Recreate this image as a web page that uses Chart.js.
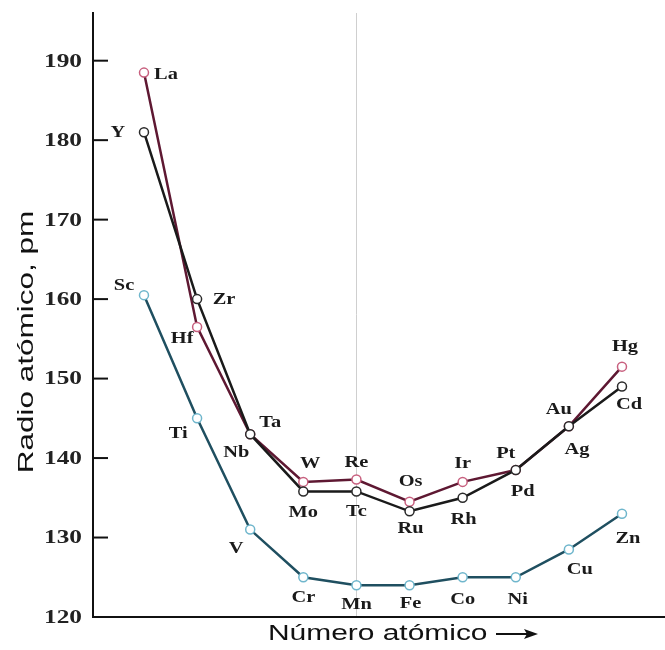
<!DOCTYPE html>
<html>
<head>
<meta charset="utf-8">
<script src="https://cdn.jsdelivr.net/npm/chart.js@4/dist/chart.umd.min.js"></script>
<style>
html,body{margin:0;padding:0;background:#fff;}
canvas{display:block;}
</style>
</head>
<body>
<canvas id="c" width="665" height="650"></canvas>
<script>
// ---- data ----
const groupIndex = [0,1,2,3,4,5,6,7,8,9];
const period4Names = ['Sc','Ti','V','Cr','Mn','Fe','Co','Ni','Cu','Zn'];
const period4Radii = [160.5,145,131,125,124,124,125,125,128.5,133];
const period5Names = ['Y','Zr','Nb','Mo','Tc','Ru','Rh','Pd','Ag','Cd'];
const period5Radii = [181,160,143,135.8,135.8,133.3,135,138.5,144,149];
const period6Names = ['La','Hf','Ta','W','Re','Os','Ir','Pt','Au','Hg'];
const period6Radii = [188.5,156.5,143,137,137.3,134.5,137,138.5,144,151.5];
const yTickValues = [120,130,140,150,160,170,180,190];
const yTitle = 'Radio atómico, pm';
const xTitle = 'Número atómico';

// ---- label placement (style) ----
const p4Off = [[-20,-10],[-19,15],[-14,19],[0,20],[0,19],[1,18],[0,22],[2,22],[11,20],[6,25]];
const p5Off = [[-26,0],[27,1],[-14,18],[0,21],[0,20],[1,17],[1,22],[7,22],[8,23],[7,18]];
const p6Off = [[22,2],[-15,12],[20,-12],[7,-18],[0,-17],[1,-20],[0,-18],[-10,-16],[-10,-17],[3,-20]];

function pts(vals){ return vals.map((v,i)=>({x:groupIndex[i], y:v})); }

const labelPlugin = {
  id:'labels',
  afterDraw(chart){
    const ctx = chart.ctx;
    const ya = chart.scales.y, xa = chart.scales.x;
    ctx.save();
    // y tick marks and labels
    ctx.strokeStyle = '#111'; ctx.lineWidth = 2;
    ctx.fillStyle = '#222';
    ctx.font = 'bold 19px "Liberation Serif"';
    ctx.textAlign = 'right'; ctx.textBaseline = 'middle';
    yTickValues.forEach(v=>{
      const py = ya.getPixelForValue(v);
      ctx.beginPath(); ctx.moveTo(xa.left, py); ctx.lineTo(xa.left+15, py); ctx.stroke();
      ctx.save(); ctx.translate(82, py); ctx.scale(1.33,1);
      ctx.fillText(String(v), 0, 1); ctx.restore();
    });
    // point labels
    ctx.textAlign='center'; ctx.textBaseline='middle';
    ctx.font = 'bold 17px "Liberation Serif"';
    ctx.fillStyle = '#1a1a1a';
    const sets = [[period4Names,p4Off],[period5Names,p5Off],[period6Names,p6Off]];
    sets.forEach((s,di)=>{
      const meta = chart.getDatasetMeta(di);
      meta.data.forEach((el,i)=>{
        ctx.save();
        ctx.translate(el.x + s[1][i][0], el.y + s[1][i][1]);
        ctx.scale(1.2,1);
        ctx.fillText(s[0][i],0,0);
        ctx.restore();
      });
    });
    // axis titles
    ctx.fillStyle = '#111';
    ctx.font = '22px "Liberation Sans"';
    ctx.save();
    ctx.translate(27, 342); ctx.rotate(-Math.PI/2); ctx.scale(1.43,1);
    ctx.textAlign='center'; ctx.textBaseline='middle';
    ctx.fillText(yTitle,0,0);
    ctx.restore();
    ctx.save();
    ctx.translate(268, 634); ctx.scale(1.36,1);
    ctx.textAlign='left'; ctx.textBaseline='middle';
    ctx.fillText(xTitle,0,0);
    ctx.restore();
    // arrow
    ctx.strokeStyle='#111'; ctx.lineWidth=2;
    ctx.beginPath(); ctx.moveTo(496,634); ctx.lineTo(530,634); ctx.stroke();
    ctx.fillStyle='#111';
    ctx.beginPath(); ctx.moveTo(538,634); ctx.lineTo(524,629); ctx.lineTo(527,634); ctx.lineTo(524,639); ctx.closePath(); ctx.fill();
    ctx.restore();
  }
};

new Chart(document.getElementById('c'), {
  type:'line',
  data:{
    datasets:[
      {label:'Periodo 4', data:pts(period4Radii), borderColor:'#1f4f60', borderWidth:2.5,
       pointRadius:4.5, pointBorderWidth:1.5, pointBackgroundColor:'#fff', pointBorderColor:'#6fb6cc', tension:0},
      {label:'Periodo 5', data:pts(period5Radii), borderColor:'#1a1a1a', borderWidth:2.5,
       pointRadius:4.5, pointBorderWidth:1.5, pointBackgroundColor:'#fff', pointBorderColor:'#2a2a2a', tension:0},
      {label:'Periodo 6', data:pts(period6Radii), borderColor:'#5e1832', borderWidth:2.5,
       pointRadius:4.5, pointBorderWidth:1.5, pointBackgroundColor:'#fff', pointBorderColor:'#c8607f', tension:0}
    ]
  },
  options:{
    responsive:false, animation:false,
    layout:{autoPadding:false, padding:{left:0,right:0,top:13,bottom:33}},
    plugins:{legend:{display:false}, tooltip:{enabled:false}, title:{display:false}},
    scales:{
      x:{type:'linear', min:-0.96, max:9.81,
        ticks:{display:false, stepSize:1},
        grid:{drawTicks:false, color:(c)=> (c.tick && c.tick.value===4) ? '#cfcfcf' : 'rgba(0,0,0,0)', lineWidth:1},
        border:{color:'#111', width:2},
        afterFit:(s)=>{ s.height = 0; }
      },
      y:{type:'linear', min:120, max:196,
        ticks:{display:false, stepSize:10},
        grid:{drawOnChartArea:false, drawTicks:false},
        border:{color:'#111', width:2},
        afterFit:(s)=>{ s.width = 93; }
      }
    }
  },
  plugins:[labelPlugin]
});
</script>
</body>
</html>
